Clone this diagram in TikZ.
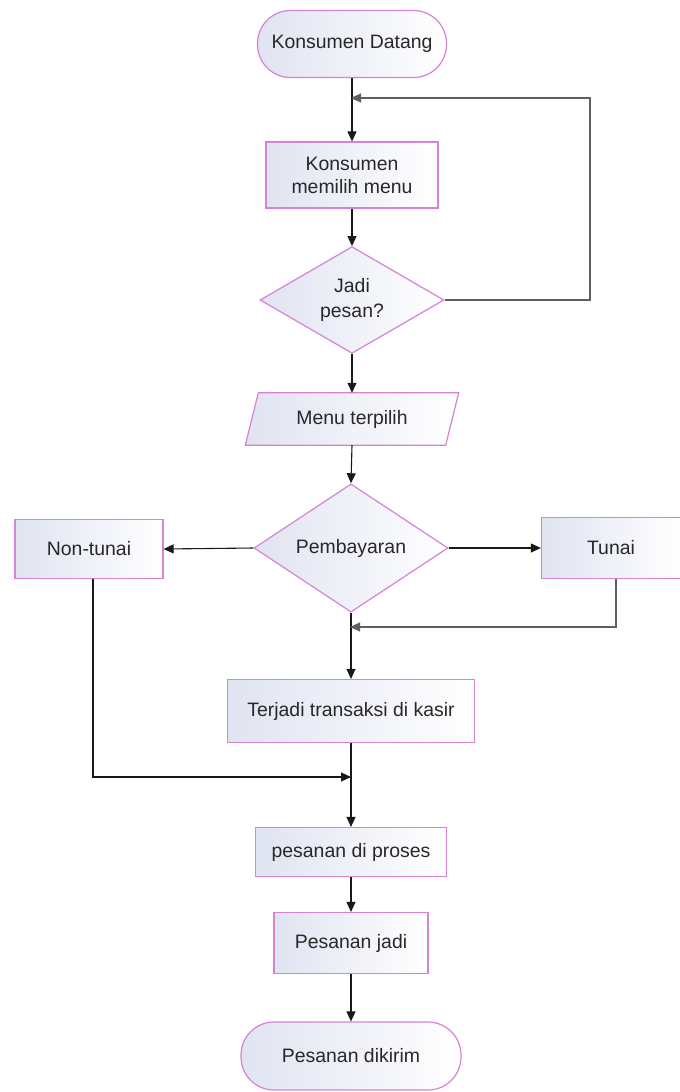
\documentclass[tikz,border=0pt]{standalone}
\usepackage{fontspec}
\setmainfont{Liberation Sans}
\usetikzlibrary{shapes.geometric,arrows.meta,calc,backgrounds}
\definecolor{bord}{RGB}{214,130,214}
\definecolor{fillL}{RGB}{224,228,241}
\definecolor{txt}{RGB}{40,40,40}
\definecolor{lineC}{RGB}{25,25,25}
\definecolor{loopC}{RGB}{95,95,95}
\begin{document}
\begin{tikzpicture}[x=1bp,y=-1bp,
  base/.style={draw=bord, line width=1.2bp, left color=fillL, right color=white,
    text=txt, font=\fontsize{19.5}{23}\selectfont, inner sep=0pt, align=center},
  procbox/.style={base, rectangle},
  termbox/.style={base, rectangle, rounded corners=33bp},
  decbox/.style={base, diamond},
  iotext/.style={rectangle, text=txt, font=\fontsize{19.5}{23}\selectfont, inner sep=0pt, align=center},
  ioshape/.style={draw=bord, line width=1.2bp, left color=fillL, right color=white},
  conn/.style={draw=lineC, line width=1.1bp, -{Triangle[width=9bp,length=10bp]}},
  plainarrow/.style={draw=loopC, line width=1.1bp, -{Triangle[width=9bp,length=10bp]}, shorten >=-1bp}
]
\useasboundingbox (0,0) rectangle (680,1092);

\node[termbox, minimum width=189bp, minimum height=67bp] (start) at (352,44) {Konsumen Datang};
\node[procbox, minimum width=172bp, minimum height=66bp] (choose) at (352,175) {Konsumen\\memilih menu};
\node[decbox, minimum width=184bp, minimum height=100bp, font=\fontsize{19.5}{25}\selectfont] (jadi) at (352,300) {Jadi\\pesan?};
\node[iotext, minimum width=200bp, minimum height=52bp] (menu) at (352,419) {Menu terpilih};
\begin{scope}[on background layer]
\fill[white] (0,0) rectangle (680,1092);
\path[ioshape] ($(menu.south west)+(-6.5,0)$) -- ($(menu.south east)+(-6.5,0)$)
  -- ($(menu.north east)+(6.5,0)$) -- ($(menu.north west)+(6.5,0)$) -- cycle;
\end{scope}
\node[decbox, minimum width=194bp, minimum height=110bp] (bayar) at (351,548) {Pembayaran};
\node[procbox, minimum width=148bp, minimum height=59bp] (nontunai) at (89,549) {Non-tunai};
\node[procbox, minimum width=139bp, minimum height=61bp] (tunai) at (611,548) {Tunai};
\node[procbox, minimum width=247bp, minimum height=63bp] (trans) at (351,711) {Terjadi transaksi di kasir};
\node[procbox, minimum width=191bp, minimum height=49bp] (proses) at (351,852) {pesanan di proses};
\node[procbox, minimum width=154bp, minimum height=61bp] (pjadi) at (351,943) {Pesanan jadi};
\node[termbox, minimum width=220bp, minimum height=68bp] (kirim) at (351,1056) {Pesanan dikirim};

\coordinate (j1) at (352,98);
\coordinate (j2) at (351,627);
\coordinate (j3) at (351,777);

% main flow
\draw[conn] (start.south) -- (choose.north);
\draw[conn] (choose.south) -- (jadi.north);
\draw[conn] (jadi.south) -- (menu.north);
\draw[conn] (menu.south) -- (bayar.north);
\draw[conn] (bayar.west) -- (nontunai.east);
\draw[conn] (bayar.east) -- (tunai.west);
\draw[conn] (bayar.south) -- (trans.north);
\draw[conn] (trans.south) -- (proses.north);
\draw[conn] (proses.south) -- (pjadi.north);
\draw[conn] (pjadi.south) -- (kirim.north);

% loop back
\draw[plainarrow] (jadi.east) -- (590,300) -- (590,98) -- (j1);
% tunai join
\draw[plainarrow] (tunai.south -| 616,0) -- (616,627) -- (j2);
% non-tunai join
\draw[conn] (nontunai.south -| 93,0) -- (93,777) -- (j3);
\end{tikzpicture}
\end{document}
